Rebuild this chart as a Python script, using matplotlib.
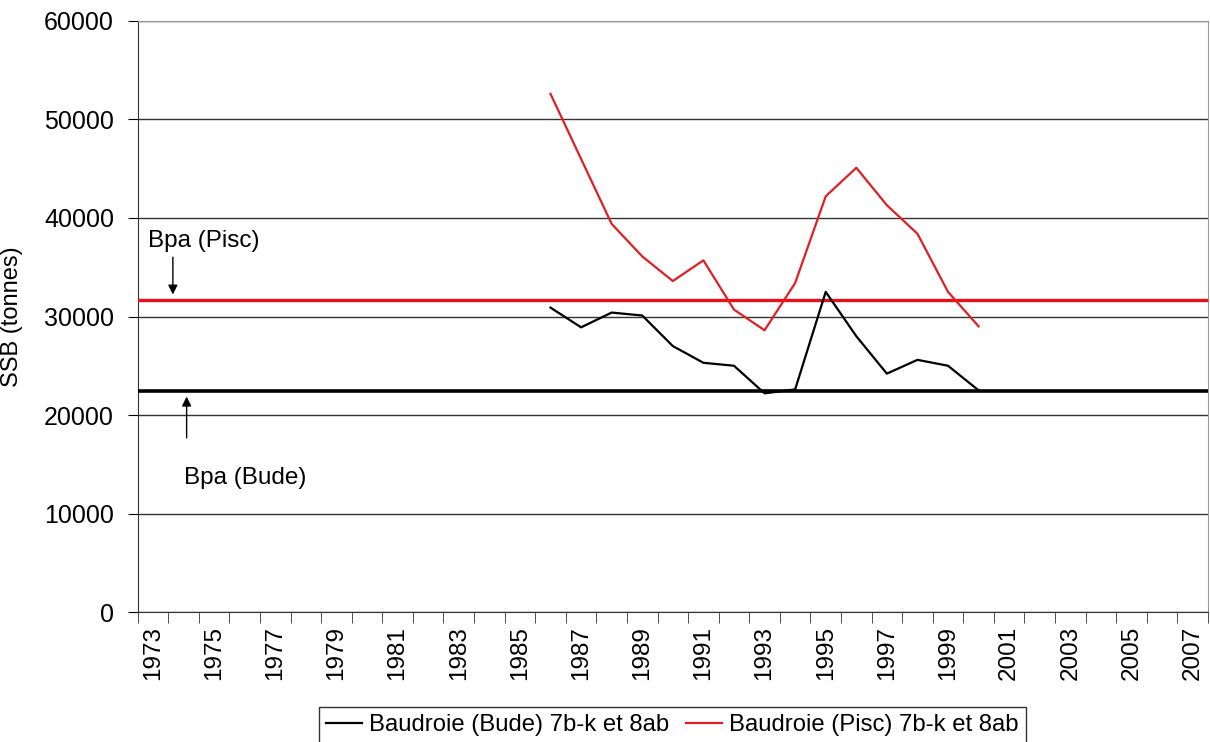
import numpy as np
import matplotlib as mpl
mpl.use('Agg')
import matplotlib.pyplot as plt

years = list(range(1986, 2001))
bude = [30900, 28900, 30400, 30100, 27000, 25300, 25000, 22200, 22600,
        32500, 28000, 24200, 25600, 25000, 22500]
pisc = [52600, 46000, 39400, 36100, 33600, 35700, 30700, 28600, 33400,
        42200, 45100, 41300, 38400, 32500, 29000]
bpa_bude = 22400
bpa_pisc = 31700
year_ticks = list(range(1973, 2008, 2))

plt.rcParams['font.family'] = ['Liberation Sans', 'DejaVu Sans']

fig = plt.figure(figsize=(12.1, 7.42), dpi=100)
ax = fig.add_axes([0.1138, 0.1752, 0.8845, 0.7965])

ax.set_xlim(1972.5, 2007.5)
ax.set_ylim(0, 60000)
ax.set_yticks(range(0, 60001, 10000))
ax.yaxis.grid(True, color='#333333', linewidth=1)
ax.set_axisbelow(True)

ax.axhline(bpa_pisc, color='#e8101a', linewidth=2.4, zorder=3)
ax.axhline(bpa_bude, color='black', linewidth=2.6, zorder=3)
ax.plot(years, bude, color='black', linewidth=1.6, label='Baudroie (Bude) 7b-k et 8ab', zorder=4)
ax.plot(years, pisc, color='#e01e24', linewidth=1.6, label='Baudroie (Pisc) 7b-k et 8ab', zorder=4)

ax.set_xticks(year_ticks)
ax.set_xticklabels([str(y) for y in year_ticks], rotation=90, fontsize=17.5)
ax.set_xticks(np.arange(1972.5, 2008, 1.0), minor=True)
ax.tick_params(axis='x', which='major', length=0, pad=10)
ax.tick_params(axis='x', which='minor', length=8, direction='out', color='#333333')
ax.tick_params(axis='y', which='major', length=7, direction='out', labelsize=18, pad=10)

for s in ['top', 'right']:
    ax.spines[s].set_color('#999999')
    ax.spines[s].set_linewidth(0.8)
for s in ['left', 'bottom']:
    ax.spines[s].set_color('#333333')

ax.set_ylabel('SSB (tonnes)', fontsize=17)
ax.yaxis.set_label_coords(-0.107, 0.5)

ax.annotate('', xy=(1973.65, bpa_pisc + 250), xytext=(1973.65, 36300),
            arrowprops=dict(arrowstyle='-|>', color='black', lw=1, mutation_scale=14))
ax.text(1972.85, 37700, 'Bpa (Pisc)', fontsize=17.5, va='center', ha='left')
ax.annotate('', xy=(1974.1, bpa_bude - 250), xytext=(1974.1, 17400),
            arrowprops=dict(arrowstyle='-|>', color='black', lw=1, mutation_scale=14))
ax.text(1974.0, 13600, 'Bpa (Bude)', fontsize=17.5, va='center', ha='left')

leg = fig.legend(loc='upper center', bbox_to_anchor=(0.556, 0.0472), ncol=2,
                 fontsize=17.2, frameon=True, fancybox=False, edgecolor='black',
                 handlelength=1.5, handletextpad=0.3, columnspacing=0.7,
                 borderpad=0.3, borderaxespad=0)
leg.get_frame().set_linewidth(1)

fig.savefig('out.png', dpi=100)
